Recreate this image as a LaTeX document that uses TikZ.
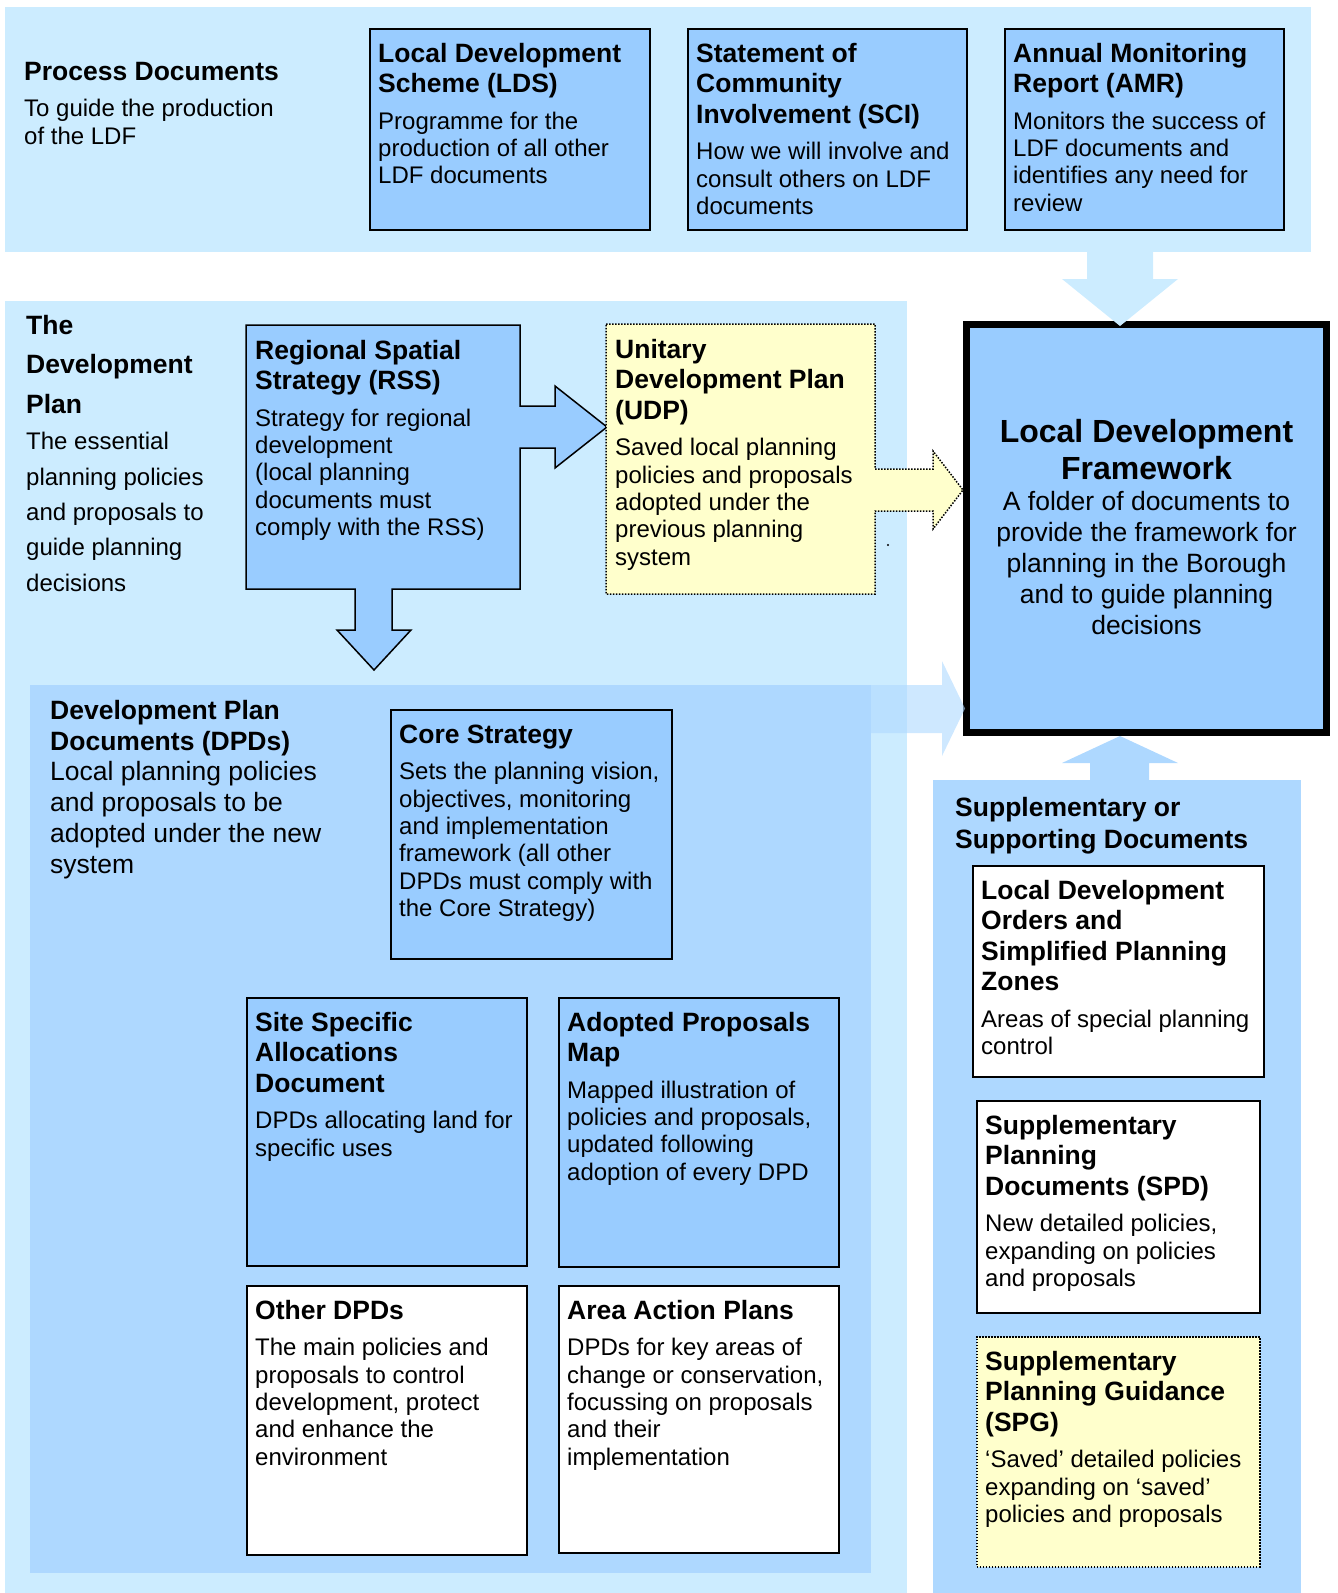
\documentclass[tikz,border=0pt]{standalone}
\usepackage{fontspec}
\setmainfont{Liberation Sans}
\definecolor{bandblue}{RGB}{204,236,255}
\definecolor{dpdblue}{RGB}{174,216,255}
\definecolor{docblue}{RGB}{153,204,255}
\definecolor{udpyellow}{RGB}{255,255,204}
\newcommand\bhead{\fontsize{26.5}{30.5}\selectfont\bfseries}
\newcommand\bbody{\fontsize{24}{27.4}\selectfont}
\newcommand\docin[2]{\parbox[t]{330pt}{\raggedright\rule{0pt}{34pt}{\bhead #1\par}\vspace{9pt}{\bbody #2\par}}}

\begin{document}
\begin{tikzpicture}[x=1pt,y=-1pt,
    docbox/.style={draw,line width=1.5pt,anchor=north west,inner sep=0pt},
    bluebox/.style={docbox,fill=docblue},
    whitebox/.style={docbox,fill=white},
    dotline/.style={line width=1.5pt,dash pattern=on 1.5pt off 1.5pt},
    yellowbox/.style={docbox,fill=udpyellow,dotline},
    doctext/.style={anchor=north west,inner xsep=9pt,inner ysep=0pt}]
\useasboundingbox (0,0) rectangle (1338,1593);
% background bands
\fill[bandblue] (5,7) rectangle (1311,252);
\fill[bandblue] (5,301) rectangle (907,1593);
\fill[dpdblue] (30,685) rectangle (871,1573);
\fill[dpdblue] (933,780) rectangle (1301,1593);

\node[draw,line width=7pt,fill=docblue,inner sep=0pt,minimum width=360pt,minimum height=408pt] (ldf) at (1146.5,528.5) {};

\draw[line width=1.5pt,fill=docblue] (246,325) -- (520,325) -- (520,406) -- (555,406) -- (555,386) -- (607,427) -- (555,468) -- (555,448) -- (520,448) -- (520,589) -- (392,589) -- (392,630) -- (411,630) -- (374,670) -- (337,630) -- (355,630) -- (355,589) -- (246,589) -- cycle;
\draw[dotline,fill=udpyellow] (606,324) -- (875,324) -- (875,469) -- (933,469) -- (933,451) -- (963,490) -- (933,529) -- (933,511) -- (875,511) -- (875,594) -- (606,594) -- cycle;
\fill (888,545) circle (1.2pt);

\node[bluebox,minimum width=280pt,minimum height=201pt] (lds) at (369,28) {};
\node[bluebox,minimum width=279pt,minimum height=201pt] (sci) at (687,28) {};
\node[bluebox,minimum width=279pt,minimum height=201pt] (amr) at (1004,28) {};
\node[bluebox,minimum width=281pt,minimum height=249pt] (core) at (390,709) {};
\node[bluebox,minimum width=280pt,minimum height=268pt] (site) at (246,997) {};
\node[bluebox,minimum width=280pt,minimum height=269pt] (apm) at (558,997) {};
\node[whitebox,minimum width=280pt,minimum height=269pt] (other) at (246,1285) {};
\node[whitebox,minimum width=280pt,minimum height=267pt] (aap) at (558,1285) {};
\node[whitebox,minimum width=291pt,minimum height=211pt] (ldo) at (972,865) {};
\node[whitebox,minimum width=283pt,minimum height=212pt] (spd) at (976,1100) {};
\node[yellowbox,minimum width=283pt,minimum height=230pt] (spg) at (976,1336) {};

% block arrows into the framework
\fill[bandblue] (1087,252) -- (1153,252) -- (1153,279) -- (1178,279) -- (1120,326) -- (1062,279) -- (1087,279) -- cycle;
\fill[dpdblue] (1090,781) -- (1090,763) -- (1062,763) -- (1120,736) -- (1178,763) -- (1149,763) -- (1149,781) -- cycle;
\fill[dpdblue,opacity=0.6] (871,685) -- (942,685) -- (942,661) -- (965,708.5) -- (942,756) -- (942,733) -- (871,733) -- cycle;

\node[doctext,inner xsep=0pt] (procT) at (24,46) {\docin{Process Documents}{To guide the production\\of the LDF}};
\node[doctext] (ldsT) at (lds.north west) {\docin{Local Development\\Scheme (LDS)}{Programme for the\\production of all other\\LDF documents}};
\node[doctext] (sciT) at (sci.north west) {\docin{Statement of\\Community\\Involvement (SCI)}{How we will involve and\\consult others on LDF\\documents}};
\node[doctext] (amrT) at (amr.north west) {\docin{Annual Monitoring\\Report (AMR)}{Monitors the success of\\LDF documents and\\identifies any need for\\review}};

\node[doctext,inner xsep=0pt] (devT) at (26,302) {\parbox[t]{220pt}{\raggedright\rule{0pt}{32.5pt}{\fontsize{26.5}{39.2}\selectfont\bfseries The\\Development\\Plan\par}\vspace{1.5pt}{\fontsize{24}{35.3}\selectfont The essential\\planning policies\\and proposals to\\guide planning\\decisions\par}}};
\node[doctext] (rssT) at (246,325) {\docin{Regional Spatial\\Strategy (RSS)}{Strategy for regional\\development\\(local planning\\documents must\\comply with the RSS)}};
\node[doctext] (udpT) at (606,324) {\docin{Unitary\\Development Plan\\(UDP)}{Saved local planning\\policies and proposals\\adopted under the\\previous planning\\system}};

\node[anchor=north,inner sep=0pt] (ldfT) at (1146.5,409) {\parbox[t]{350pt}{\centering\rule{0pt}{33pt}{\fontsize{32}{37}\selectfont\bfseries Local Development\\Framework\par}{\fontsize{26.5}{31}\selectfont A folder of documents to\\provide the framework for\\planning in the Borough\\and to guide planning\\decisions\par}}};

\node[doctext,inner xsep=0pt] (dpdT) at (50,685) {\parbox[t]{300pt}{\raggedright\rule{0pt}{34pt}{\fontsize{26.5}{30.8}\selectfont\bfseries Development Plan\\Documents (DPDs)\par}{\fontsize{26.5}{30.8}\selectfont Local planning policies\\and proposals to be\\adopted under the new\\system\par}}};
\node[doctext] (coreT) at (core.north west) {\docin{Core Strategy}{Sets the planning vision,\\objectives, monitoring\\and implementation\\framework (all other\\DPDs must comply with\\the Core Strategy)}};
\node[doctext] (siteT) at (site.north west) {\docin{Site Specific\\Allocations\\Document}{DPDs allocating land for\\specific uses}};
\node[doctext] (apmT) at (apm.north west) {\docin{Adopted Proposals\\Map}{Mapped illustration of\\policies and proposals,\\updated following\\adoption of every DPD}};
\node[doctext] (otherT) at (other.north west) {\docin{Other DPDs}{The main policies and\\proposals to control\\development, protect\\and enhance the\\environment}};
\node[doctext] (aapT) at (aap.north west) {\docin{Area Action Plans}{DPDs for key areas of\\change or conservation,\\focussing on proposals\\and their\\implementation}};

\node[doctext,inner xsep=0pt] (suppT) at (955,783) {\parbox[t]{330pt}{\raggedright\rule{0pt}{33pt}\fontsize{26.5}{32}\selectfont\bfseries Supplementary or\\Supporting Documents\par}};
\node[doctext] (ldoT) at (ldo.north west) {\docin{Local Development\\Orders and\\Simplified Planning\\Zones}{Areas of special planning\\control}};
\node[doctext] (spdT) at (spd.north west) {\docin{Supplementary\\Planning\\Documents (SPD)}{New detailed policies,\\expanding on policies\\and proposals}};
\node[doctext] (spgT) at (spg.north west) {\docin{Supplementary\\Planning Guidance\\(SPG)}{‘Saved’ detailed policies\\expanding on ‘saved’\\policies and proposals}};
\end{tikzpicture}
\end{document}
